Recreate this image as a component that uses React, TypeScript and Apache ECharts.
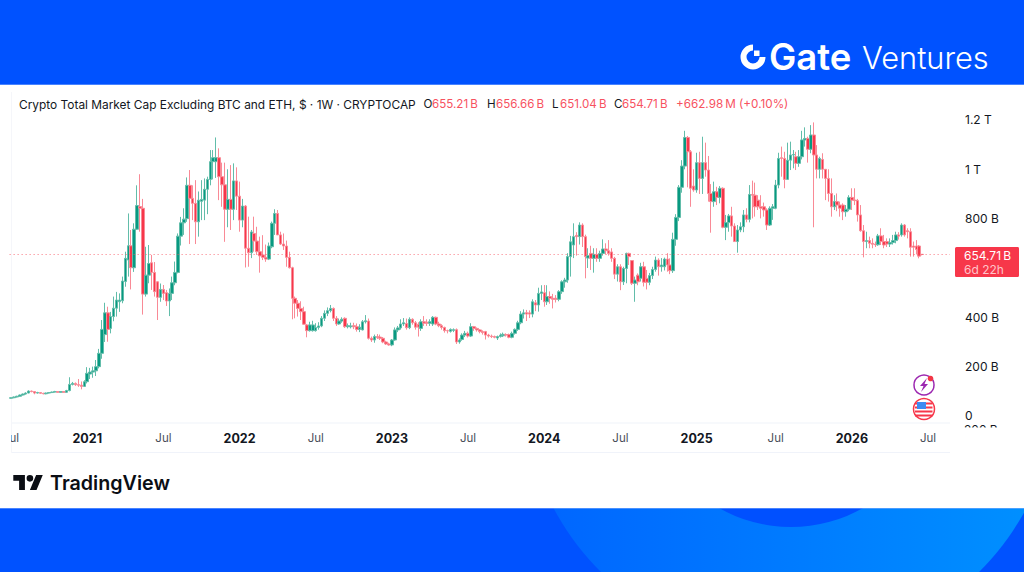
import React, { useEffect, useRef } from "react";
import * as echarts from "echarts";

const opens = [
  72,74,77,80,85,89,93,101,99,93,
  95,92,90,93,95,97,99,96,99,96,
  103,128,132,127,125,120,139,170,178,183,
  200,254,330,418,355,403,437,463,467,545,
  632,690,601,757,849,842,494,571,621,582,
  544,481,513,500,466,497,540,582,729,783,
  800,935,882,862,787,870,875,919,959,1031,
  1031,1047,970,937,838,878,838,953,891,794,
  851,680,662,740,709,666,653,643,636,686,
  781,821,734,697,689,643,601,477,457,436,
  423,369,346,346,346,359,365,396,416,427,
  436,396,373,385,396,362,362,366,362,351,
  349,382,385,315,308,322,320,315,300,292,
  288,308,349,357,373,375,358,392,378,372,
  355,382,380,376,373,400,373,366,359,346,
  343,347,350,300,310,328,335,324,362,355,
  349,342,342,328,324,322,316,322,325,330,
  330,319,335,351,378,413,419,418,413,459,
  450,497,500,463,484,477,477,473,504,544,
  551,646,693,732,727,774,727,640,659,639,
  655,639,659,677,670,665,639,575,605,544,
  598,659,630,538,571,558,605,558,542,569,
  594,632,605,605,636,612,589,716,805,927,
  1013,1129,1071,932,916,1027,963,1027,997,902,
  869,909,886,923,765,784,811,770,707,754,
  767,815,797,898,895,875,848,848,835,774,
  842,842,936,1047,1044,959,1037,1058,1051,1024,
  1051,1119,1125,1081,1139,1058,1000,1040,1000,963,
  902,848,869,855,855,828,838,886,875,873,
  815,751,707,711,700,697,694,730,707,707,
  697,703,711,734,734,774,751,747,689,689,
  689,655.21,
];
const closes = [
  74,77,80,85,89,93,101,99,93,95,
  92,90,93,95,97,99,96,99,96,103,
  128,132,127,125,120,139,173,178,183,200,
  254,351,418,351,403,437,470,470,547,639,
  690,601,757,853,842,494,571,618,582,504,
  481,513,497,466,497,540,582,729,783,798,
  935,882,862,787,875,878,919,959,1031,1047,
  1047,970,937,838,878,838,953,891,794,851,
  680,662,746,709,666,649,643,636,689,781,
  821,734,697,689,643,601,477,457,436,423,
  372,346,369,369,359,365,396,416,427,436,
  396,373,385,392,362,366,365,362,351,360,
  382,386,315,308,322,318,315,300,292,288,
  308,349,357,373,378,358,392,378,360,360,
  382,376,376,382,400,373,366,359,346,345,
  351,350,300,308,328,335,324,362,355,349,
  342,338,328,324,322,319,322,328,331,328,
  319,335,351,378,413,418,413,413,463,450,
  497,503,463,484,477,473,473,504,544,551,
  646,706,727,727,774,727,646,650,639,655,
  639,659,677,670,659,639,575,605,544,598,
  659,646,538,551,544,605,542,542,569,594,
  632,605,612,636,612,589,716,805,927,1013,
  1129,1071,923,916,1027,963,1027,997,902,869,
  909,886,923,765,784,811,770,707,754,767,
  815,797,898,895,848,848,842,835,774,842,
  848,936,1044,1044,959,1037,1058,1060,1024,1051,
  1119,1125,1081,1139,1058,1000,1044,1000,963,902,
  848,869,855,842,828,838,886,875,873,815,
  751,707,711,700,696,694,730,707,693,697,
  703,711,734,729,774,734,747,684,684,675,
  648,654.71,
];
const lows = [
  70,72,75,78,83,87,92,96,88,91,
  90,88,88,91,93,95,94,94,94,94,
  100,124,122,118,108,118,132,150,155,162,
  193,232,300,301,335,384,403,422,457,524,
  565,513,584,754,747,411,484,538,511,484,
  389,463,470,446,405,470,530,578,691,734,
  787,697,794,697,727,794,794,818,935,959,
  965,875,848,706,765,754,794,835,747,765,
  602,605,640,666,653,581,632,625,632,680,
  734,734,693,673,605,598,392,396,403,389,
  370,319,342,342,342,350,360,385,405,420,
  385,365,370,378,357,355,355,352,342,340,
  347,375,310,300,297,312,308,295,288,285,
  283,305,340,350,365,350,352,370,350,322,
  345,365,365,365,365,368,360,350,338,335,
  338,340,292,293,305,320,318,320,345,342,
  335,330,310,318,316,315,308,318,320,322,
  315,315,330,345,372,395,385,397,400,425,
  423,470,443,450,455,436,460,465,495,520,
  540,565,640,650,695,685,558,600,592,581,
  625,625,650,655,650,625,555,545,510,531,
  538,612,531,463,530,545,525,513,530,555,
  585,569,585,590,585,575,580,690,790,905,
  1000,927,848,909,905,900,900,970,869,743,
  848,855,862,761,713,747,727,707,662,745,
  745,785,785,801,808,835,801,808,754,770,
  795,838,923,970,923,957,997,1004,997,1010,
  1040,1092,1027,1065,765,963,963,963,875,869,
  808,835,830,808,794,808,830,835,855,788,
  747,643,680,680,680,685,690,693,680,685,
  685,695,700,715,727,727,720,646,646,655,
  639,651.04,
];
const highs = [
  76,79,82,87,91,96,104,103,101,98,
  97,94,95,97,99,102,101,101,100,106,
  157,138,136,150,140,145,198,195,200,227,
  272,389,459,443,422,484,503,497,565,666,
  821,754,781,935,980,880,686,693,653,624,
  546,537,531,511,517,565,626,740,807,842,
  967,997,935,956,910,956,963,970,1078,1078,
  1129,1085,1027,1027,1000,1017,1024,1008,950,880,
  855,808,754,808,767,727,733,695,703,788,
  838,835,747,740,711,666,605,484,470,465,
  443,373,382,386,376,380,405,428,440,450,
  440,405,395,400,400,375,378,378,375,372,
  389,409,395,322,330,332,330,320,305,297,
  312,359,365,392,397,395,400,396,385,380,
  392,405,392,392,405,403,382,372,362,350,
  355,355,355,315,335,345,342,376,365,359,
  352,347,345,333,330,326,326,335,338,335,
  334,342,355,386,425,432,430,428,473,470,
  520,530,531,530,505,495,490,510,550,560,
  660,730,781,745,785,781,735,680,690,680,
  680,670,716,700,713,680,645,615,615,605,
  662,662,632,565,578,621,625,592,580,605,
  646,639,640,642,660,639,743,818,936,1037,
  1156,1135,1078,1000,1067,1071,1132,1108,1054,940,
  950,929,932,927,815,819,848,781,774,785,
  835,842,936,954,946,895,895,865,842,850,
  859,957,1067,1092,1071,1108,1112,1078,1071,1078,
  1156,1170,1132,1179,1190,1098,1051,1065,1000,1000,
  963,895,902,869,862,855,895,923,923,880,
  855,774,747,727,720,707,738,761,734,720,
  720,734,747,745,781,778,761,761,707,713,
  693,656.66,
];

const lastPrice = 654.71;
const yTickValues = [0, 200, 400, 600, 800, 1000, 1200];
const yTickLabels = ["0", "200 B", "400 B", "", "800 B", "1 T", "1.2 T"];
const xTickWeeks = [0, 26, 52, 78, 104, 130, 156, 182, 208, 234, 261, 287, 313];
const xTickLabels = ["Jul", "2021", "Jul", "2022", "Jul", "2023", "Jul", "2024", "Jul", "2025", "Jul", "2026", "Jul"];
const titleText = "Crypto Total Market Cap Excluding BTC and ETH, $ \u00b7 1W \u00b7 CRYPTOCAP";
const ohlcKeys = ["O", "H", "L", "C"];
const ohlcValues = ["655.21\u2009B", "656.66\u2009B", "651.04\u2009B", "654.71\u2009B"];
const changeText = "+662.98\u2009M (+0.10%)";

const weekCount = 321;
const categories: string[] = [];
for (let i = 0; i < weekCount; i++) {
  categories.push(new Date(Date.UTC(2020, 6, 6 + i * 7)).toISOString().slice(0, 10));
}

const FONT = "Inter, Roboto, sans-serif";
const INK = "#131722";
const RED = "#f7374a";

const GATE_ICON =
  "M0,-12.5 A12.5,12.5 0 1 0 12.5,0 L6.5,0 A6.5,6.5 0 1 1 0,-6.5 Z M1,-6.5 L6.5,-6.5 L6.5,-1 L1,-1 Z";
const TV_MARK =
  "M14 22H7V11H0V4h14v18z M28 22h-8l7.5-18h8L28 22z M24 8a4 4 0 1 1-8 0a4 4 0 1 1 8 0z";
const BOLT = "M3,-7 L-4,1 L-0.5,1 L-3,7 L4,-1 L0.5,-1 Z";

echarts.graphic.registerShape("gateIcon", echarts.graphic.extendPath(GATE_ICON, {}));
echarts.graphic.registerShape("tvMark", echarts.graphic.extendPath(TV_MARK, {}));
echarts.graphic.registerShape("bolt", echarts.graphic.extendPath(BOLT, {}));

function label(text: string, x: number, y: number, fill: string, size = 12, weight: any = 400, extra: any = {}) {
  return {
    type: "text",
    x,
    y,
    z: 50,
    silent: true,
    style: { text, fill, font: `${weight} ${size}px ${FONT}`, textVerticalAlign: "middle", verticalAlign: "middle", ...extra },
  };
}
function box(x: number, y: number, width: number, height: number, fill: any, z: number) {
  return { type: "rect", z, silent: true, shape: { x, y, width, height }, style: { fill } };
}

export default function App() {
  const ref = useRef<HTMLDivElement>(null);
  useEffect(() => {
    document.body.style.margin = "0";
    const chart = echarts.init(ref.current!, null, { renderer: "svg" });
    const ringFill = new echarts.graphic.LinearGradient(0, 0, 1, 0, [
      { offset: 0, color: "#0064ff" },
      { offset: 1, color: "#0092ff" },
    ]);
    const ohlcX = [[423.5, 432], [487, 496], [552, 560], [614, 622]];
    const ohlcTexts: any[] = [];
    ohlcKeys.forEach((k, i) => {
      ohlcTexts.push(label(k, ohlcX[i][0], 104, INK, 11.6));
      ohlcTexts.push(label(ohlcValues[i], ohlcX[i][1], 104, "#f7525f", 11.6));
    });
    const flagStripes = [402.5, 406.5, 410.5, 414.5].map((y) => box(915, y, 17.5, 2, "#f7374a", 51));
    chart.setOption({
      animation: false,
      backgroundColor: "#0052ff",
      grid: { left: 9.5, right: 74, top: 92, bottom: 149, containLabel: false },
      xAxis: {
        type: "category",
        data: categories,
        boundaryGap: true,
        z: 5,
        axisLine: { show: false },
        axisTick: { show: false },
        splitLine: { show: false },
        axisLabel: {
          margin: 9,
          hideOverlap: false,
          showMinLabel: true,
          interval: (index: number) => xTickWeeks.includes(index),
          formatter: (_v: string, index: number) => {
            const t = xTickLabels[xTickWeeks.indexOf(index)] ?? "";
            return t === "Jul" ? `{m|${t}}` : `{y|${t}}`;
          },
          rich: {
            m: { fontFamily: FONT, fontSize: 11.5, color: "#4a4e59" },
            y: { fontFamily: FONT, fontSize: 12.5, fontWeight: 700, color: INK },
          },
        },
      },
      yAxis: {
        type: "value",
        position: "right",
        min: -28.4,
        max: 1313.3,
        scale: true,
        z: 5,
        axisLine: { show: false },
        axisTick: { show: false },
        splitLine: { show: false },
        axisLabel: {
          margin: 15,
          customValues: yTickValues.filter((_, i) => yTickLabels[i] !== ""),
          color: INK,
          fontFamily: FONT,
          fontSize: 12,
          lineHeight: 14,
          padding: [1, 0, 0, 0],
          formatter: (v: number) => yTickLabels[yTickValues.indexOf(v)] ?? "",
        },
      },
      series: [
        {
          type: "candlestick",
          barWidth: 3,
          data: opens.map((o, i) => [o, closes[i], lows[i], highs[i]]),
          itemStyle: {
            color: "#089981",
            color0: "#f7374a",
            borderColor: "#62bdaa",
            borderColor0: "#f98a96",
            borderWidth: 1,
          },
          markLine: {
            silent: true,
            symbol: "none",
            animation: false,
            label: { show: false },
            lineStyle: { type: [1, 3], color: "#f7525f", width: 1, opacity: 0.8 },
            data: [{ yAxis: lastPrice }],
          },
        },
      ],
      graphic: {
        elements: [
          { type: "circle", z: -30, silent: true, shape: { cx: 790, cy: 382, r: 268 }, style: { fill: ringFill } },
          { type: "circle", z: -29, silent: true, shape: { cx: 791, cy: 381, r: 146 }, style: { fill: "#0050ff" } },
          box(0, 84.5, 1024, 424, "#8fb4ff", -28),
          box(0, 85, 1024, 423, "#ffffff", -27),
          box(11, 422.5, 939, 1, "#f0f3fa", -26),
          box(11, 452, 939, 1, "#f0f3fa", -26),
          box(11, 92, 1, 361, "#f5f6fa", -26),

          // Brand header
          { type: "gateIcon", x: 753, y: 57, z: 50, silent: true, style: { fill: "#ffffff" } },
          label("Gate", 769, 57, "#ffffff", 36.5, 600),
          label("Ventures", 862, 57, "#ffffff", 30.8, 300),

          // Legend row
          label(titleText, 19, 104, INK, 11.9),
          ...ohlcTexts,
          label(changeText, 676, 104, "#f7525f", 11.7),

          // Sliver of the next price label below the plot, and masks for the pane edges
          label("200 B", 964, 429, INK, 12),
          box(955, 427.5, 60, 12, "#ffffff", 51),
          box(0, 428, 11, 22, "#ffffff", 51),

          // Last price tag
          { type: "rect", z: 50, silent: true, shape: { x: 955, y: 247, width: 64, height: 30, r: 1.5 }, style: { fill: RED } },
          label("654.71\u2009B", 964, 255, "#ffffff", 12),
          label("6d 22h", 964, 269, "#ffc3c9", 12),

          // Event markers
          { type: "circle", z: 50, silent: true, shape: { cx: 924, cy: 385, r: 10 }, style: { fill: "#ffffff", stroke: "#9c27b0", lineWidth: 1.5 } },
          { type: "bolt", x: 924, y: 385, z: 51, silent: true, style: { fill: "#9c27b0" } },
          { type: "circle", z: 52, silent: true, shape: { cx: 930.5, cy: 378.5, r: 2.8 }, style: { fill: "#f23645" } },
          { type: "circle", z: 50, silent: true, shape: { cx: 924, cy: 409, r: 10.5 }, style: { fill: "#ffffff", stroke: "#f7374a", lineWidth: 1.5 } },
          ...flagStripes,
          box(917, 402, 9, 7, "#3d8bf2", 52),

          // TradingView wordmark
          { type: "tvMark", x: 13.3, y: 471.7, scaleX: 0.83, scaleY: 0.83, z: 50, silent: true, style: { fill: "#0b0e14" } },
          label("TradingView", 50, 483, "#0b0e14", 19.7, 600),
        ],
      },
    });
    return () => chart.dispose();
  }, []);
  return <div ref={ref} style={{ position: "absolute", left: 0, top: 0, width: 1024, height: 572 }} />;
}
